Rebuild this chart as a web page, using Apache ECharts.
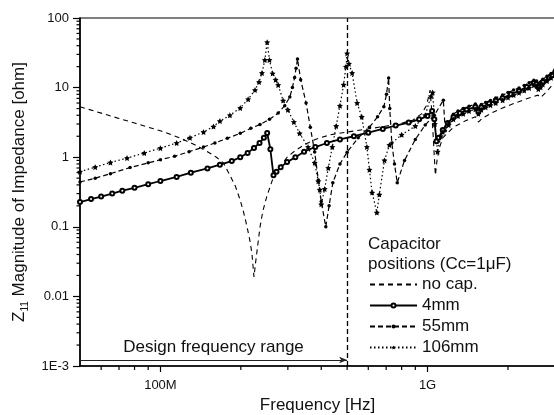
<!DOCTYPE html>
<html><head><meta charset="utf-8">
<script src="https://cdn.jsdelivr.net/npm/echarts@6/dist/echarts.min.js"></script>
<style>html,body{margin:0;padding:0;background:#fff}#c{width:554px;height:415px}</style>
</head><body><div id="c"></div>
<script>
const FONT = '"Liberation Sans", Arial, Helvetica, sans-serif';
const seriesNames = ['no cap.', '4mm', '55mm', '106mm'];
// [frequency in MHz, |Z11| in ohm]
const noCap = [[50,5.3],[60,4.3],[70,3.6],[80,3.1],[90,2.7],[100,2.4],[118,1.9],[135,1.5],[150,1.2],[162,1.0],[172,0.83],[182,0.55],[191,0.38],[199,0.24],[205,0.16],[211,0.1],[216,0.065],[220,0.042],[224,0.019],[227,0.03],[230,0.045],[236,0.1],[242,0.17],[250,0.27],[257,0.37],[265,0.52],[280,0.72],[298,1.0],[320,1.25],[345,1.5],[380,1.8],[432,2.1],[500,2.3],[580,2.5],[680,2.75],[780,3.0],[880,3.4],[950,4.2],[990,5.5],[1010,7.5],[1022,9.2],[1035,5],[1050,2],[1062,0.9],[1070,0.55],[1085,0.9],[1110,1.4],[1140,1.9],[1250,2.7],[1380,3.3],[1510,3.8],[1550,3.2],[1600,3.6],[1750,4.4],[1910,5.1],[2100,5.9],[2350,6.9],[2590,7.8],[2650,7.2],[2780,8.6],[2930,10.9],[3000,11.5]];
const cap4mm = [[50,0.227],[55,0.25],[60,0.272],[66,0.3],[72,0.33],[80,0.363],[90,0.41],[100,0.455],[115,0.52],[130,0.6],[150,0.69],[167,0.78],[185,0.88],[199,1.0],[212,1.15],[224,1.36],[235,1.6],[244,1.9],[251,2.23],[258,1.3],[265,0.55],[272,0.62],[282,0.72],[298,0.85],[320,1.0],[345,1.2],[380,1.4],[420,1.6],[470,1.8],[530,2.0],[600,2.25],[680,2.55],[760,2.85],[850,3.15],[930,3.5],[1000,3.9],[1040,4.6],[1060,3.5],[1080,1.7],[1100,1.9],[1140,2.46],[1190,3.1],[1250,3.78],[1320,4.3],[1400,4.8],[1510,5.3],[1550,4.5],[1590,5.2],[1700,5.9],[1800,6.5],[1910,7.1],[2050,8.0],[2200,9.0],[2350,10.2],[2500,11.6],[2560,11.3],[2600,10.2],[2700,12],[2850,14],[2930,15.2],[3000,16.5]];
const cap55mm = [[50,0.44],[57,0.5],[65,0.58],[77,0.71],[90,0.83],[100,0.92],[113,1.03],[128,1.2],[145,1.4],[160,1.6],[178,1.87],[199,2.2],[218,2.6],[236,2.95],[256,3.5],[276,4.3],[292,5.5],[305,7.3],[312,10],[318,14],[322,19],[326,25.8],[335,13],[351,6.0],[364,2.7],[378,1.19],[390,0.47],[400,0.23],[416,0.1],[428,0.2],[442,0.43],[470,0.8],[500,1.18],[550,1.9],[606,2.7],[650,3.8],[686,5.3],[702,8],[715,13.7],[722,5],[735,1.6],[752,0.8],[770,0.43],[820,0.9],[900,1.8],[980,2.9],[1060,4],[1146,6.6],[1165,2.4],[1200,3.1],[1250,4.15],[1300,4.6],[1360,5.0],[1430,5.4],[1510,5.8],[1550,5.0],[1590,5.7],[1650,6.1],[1720,6.5],[1800,7.1],[1910,7.8],[2000,8.5],[2100,9.2],[2200,9.9],[2300,10.7],[2400,11.7],[2500,12.8],[2560,12.4],[2600,11.2],[2650,12.0],[2700,13.2],[2800,14.5],[2900,16],[3000,18]];
const cap106mm = [[50,0.62],[57,0.72],[65,0.84],[75,0.97],[87,1.15],[100,1.35],[115,1.6],[129,1.9],[145,2.3],[158,2.75],[167,3.3],[182,4.0],[199,5.1],[213,6.8],[226,9.2],[234,12],[240,16.2],[246,25],[251,45],[256,25],[263,16],[270,13],[276,10.9],[288,6.5],[300,4.8],[316,3.2],[332,2.2],[357,1.4],[378,0.83],[390,0.45],[395,0.34],[400,0.21],[412,0.35],[425,0.7],[440,1.4],[455,2.8],[470,5.5],[485,11],[495,20],[500,31],[508,22],[522,16.2],[545,6],[567,3.8],[593,1.4],[606,0.66],[620,0.31],[646,0.16],[660,0.29],[690,0.9],[720,1.5],[800,2.1],[900,2.8],[980,4],[1030,7.5],[1045,8.5],[1065,3],[1090,1.2],[1120,2.0],[1140,2.3],[1200,2.9],[1250,3.5],[1300,3.9],[1360,4.2],[1430,4.6],[1510,4.9],[1550,4.2],[1590,4.8],[1650,5.2],[1720,5.6],[1800,6.0],[1910,6.6],[2000,7.2],[2100,7.8],[2200,8.4],[2300,9.1],[2400,9.9],[2500,10.8],[2560,10.5],[2600,9.5],[2650,10.1],[2700,11.1],[2800,12.4],[2900,13.8],[3000,15.2]];
const xMinorTicks = [60e6,70e6,80e6,90e6,200e6,300e6,400e6,500e6,600e6,700e6,800e6,900e6,2e9];
const yDecades = [1e-3,1e-2,1e-1,1,10];
const yMinorMultipliers = [2,3,4,5,6,7,8,9];
const xLabels = {8:'100M', 9:'1G'};
const yLabels = {'-3':'1E-3','-2':'0.01','-1':'0.1','0':'1','1':'10','2':'100'};
const designRange = [50e6, 500e6];
const designLevel = 0.00122;
const xMin = 50e6, xMax = 3e9, yMin = 1e-3, yMax = 100;

const yMinorTicks = [];
yDecades.forEach(d => yMinorMultipliers.forEach(m => yMinorTicks.push(d * m)));

const chart = echarts.init(document.getElementById('c'), null, {renderer: 'canvas'});
const toHz = arr => arr.map(p => [p[0] * 1e6, p[1]]);
const star = 'path://M0,-10L2.9,-4L9.5,-3.1L4.8,1.5L5.9,8.1L0,5L-5.9,8.1L-4.8,1.5L-9.5,-3.1L-2.9,-4Z';

const designLabel = {
  show: true, position: 'insideMiddleTop', distance: 4,
  formatter: 'Design frequency range', fontSize: 17, color: '#111', fontFamily: FONT
};

// minor tick marks: small rectangles anchored on the axes through the chart's own scales
function tickSeries(isX, values, len) {
  return {
    type: 'scatter', silent: true, clip: false, animation: false, z: 10,
    data: values.map(v => isX ? [v, yMin] : [xMin, v]),
    symbol: 'rect',
    symbolSize: isX ? [1.2, len] : [len, 1.2],
    symbolOffset: isX ? [0, len / 2] : [-len / 2, 0],
    itemStyle: {color: '#000', opacity: 1},
    emphasis: {disabled: true}
  };
}

const common = {type: 'line', animation: false, smooth: false, showSymbol: true, color: '#000'};
const option = {
  backgroundColor: '#fff',
  animation: false,
  textStyle: {fontFamily: FONT},
  grid: {left: 80, top: 18, right: -1, bottom: 49, show: true, borderColor: '#000', borderWidth: 1.2,
         containLabel: false, outerBoundsMode: 'none'},
  legend: {
    data: [{name: 'no cap.', itemStyle: {opacity: 0}}, '4mm', '55mm', '106mm'],
    orient: 'vertical', left: 369, top: 274, padding: 0,
    itemWidth: 47, itemHeight: 5, itemGap: 0,
    textStyle: {fontSize: 17, lineHeight: 21, color: '#111', fontFamily: FONT},
    inactiveColor: '#000'
  },
  graphic: [
    {type: 'text', left: 368, top: 236, style: {text: 'Capacitor', fontSize: 17, fontFamily: FONT, fill: '#111'}},
    {type: 'text', left: 368, top: 256, style: {text: 'positions (Cc=1\u03bcF)', fontSize: 17, fontFamily: FONT, fill: '#111'}}
  ],
  xAxis: {
    type: 'log', min: xMin, max: xMax, logBase: 10,
    splitLine: {show: false},
    axisTick: {show: true, length: 6, lineStyle: {color: '#000', width: 1.2}},
    axisLine: {lineStyle: {color: '#000', width: 1.5}},
    axisLabel: {
      color: '#111', fontSize: 13, margin: 13, fontFamily: FONT, showMinLabel: false, showMaxLabel: false,
      formatter: v => { const e = Math.round(Math.log10(v)); return (Math.abs(Math.log10(v) - e) < 1e-6 && xLabels[e]) ? xLabels[e] : ''; }
    },
    name: 'Frequency [Hz]', nameLocation: 'middle', nameGap: 27,
    nameTextStyle: {fontSize: 17, color: '#111', fontFamily: FONT}
  },
  yAxis: {
    type: 'log', min: yMin, max: yMax, logBase: 10,
    splitLine: {show: false},
    axisTick: {show: true, length: 7, lineStyle: {color: '#000', width: 1.2}},
    axisLine: {lineStyle: {color: '#000', width: 1.5}},
    axisLabel: {
      color: '#111', fontSize: 13, margin: 11, fontFamily: FONT,
      formatter: v => { const e = Math.round(Math.log10(v)); return yLabels[String(e)] || ''; }
    },
    name: '{z|Z}{s|11} Magnitude of Impedance [ohm]', nameLocation: 'middle', nameGap: 38, nameRotate: 90,
    nameTextStyle: {
      fontSize: 17, color: '#111', fontFamily: FONT,
      rich: {z: {fontSize: 17, fontFamily: FONT, color: '#111', lineHeight: 22},
             s: {fontSize: 10, fontFamily: FONT, color: '#111', verticalAlign: 'bottom', lineHeight: 10}}
    }
  },
  series: [
    Object.assign({}, common, {
      name: 'no cap.', data: toHz(noCap), symbol: 'none',
      lineStyle: {color: '#000', width: 1.1, type: [5, 4]},
      markLine: {
        silent: true, animation: false, symbol: 'none',
        lineStyle: {color: '#222', width: 1, type: 'solid'},
        label: {show: false},
        data: [
          [{coord: [designRange[0], designLevel], symbol: 'none', label: designLabel},
           {coord: [designRange[1], designLevel], symbol: 'arrow', symbolSize: [5, 8], label: designLabel}],
          [{coord: [designRange[1], yMin], symbol: 'none'},
           {coord: [designRange[1], yMax], symbol: 'none',
            lineStyle: {type: [5, 3], width: 1.3, color: '#000'}, label: {show: false}}]
        ]
      }
    }),
    Object.assign({}, common, {
      name: '4mm', data: toHz(cap4mm), symbol: 'emptyCircle', symbolSize: 4,
      lineStyle: {color: '#000', width: 1.8, type: 'solid'},
      itemStyle: {color: '#000', borderWidth: 0.8}
    }),
    Object.assign({}, common, {
      name: '55mm', data: toHz(cap55mm), symbol: 'circle', symbolSize: 3.5,
      lineStyle: {color: '#000', width: 1.2, type: [5, 3]},
      itemStyle: {color: '#000'}
    }),
    Object.assign({}, common, {
      name: '106mm', data: toHz(cap106mm), symbol: star, symbolSize: 6,
      lineStyle: {color: '#000', width: 1.2, type: [1.5, 2.5]},
      itemStyle: {color: '#000'}
    }),
    tickSeries(true, xMinorTicks, 4),
    tickSeries(false, yMinorTicks, 3.5)
  ]
};
chart.setOption(option);
</script></body></html>
